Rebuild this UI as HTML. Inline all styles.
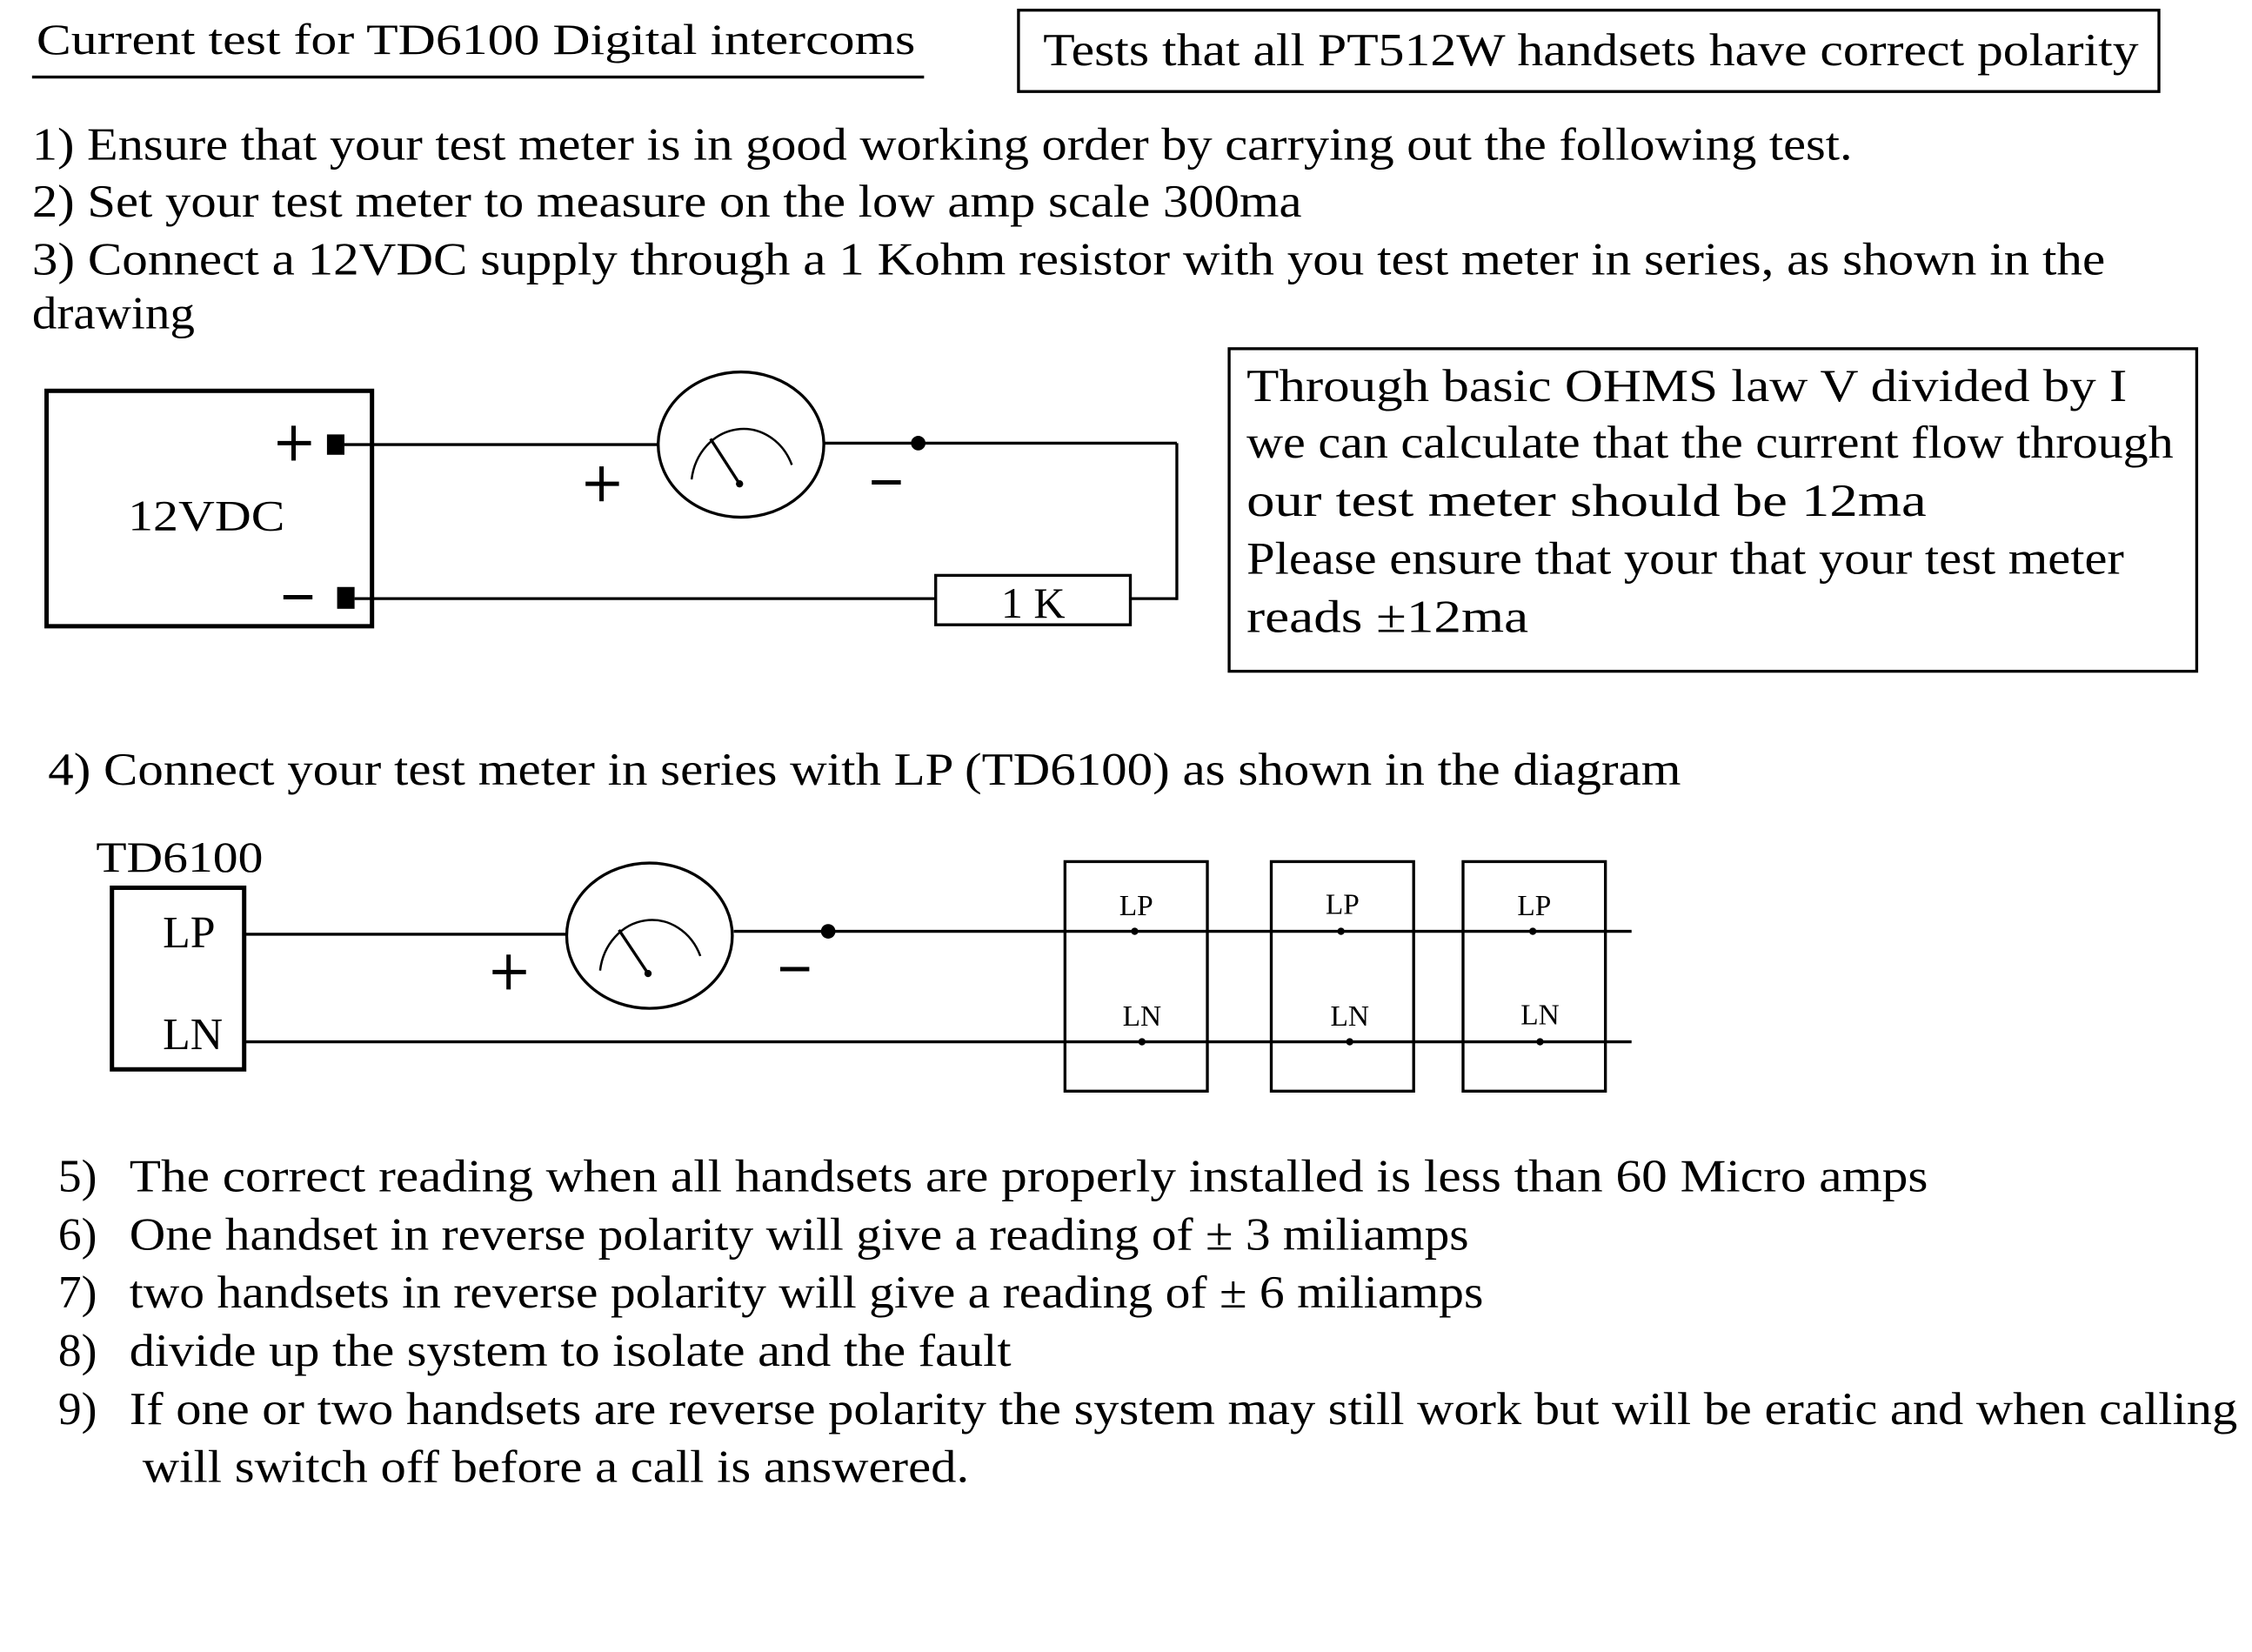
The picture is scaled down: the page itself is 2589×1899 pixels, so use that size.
<!DOCTYPE html>
<html><head><meta charset="utf-8"><style>
html,body{margin:0;padding:0;background:#fff;}
svg{display:block;}
text{font-family:"Liberation Serif",serif;fill:#000;}
</style></head><body>
<svg width="2589" height="1899" viewBox="0 0 1550 1137" xmlns="http://www.w3.org/2000/svg">
<rect width="1550" height="1137" fill="#fff"/>
<text x="25" y="37" font-size="30" textLength="605" lengthAdjust="spacingAndGlyphs">Current  test  for TD6100 Digital intercoms</text>
<line x1="22" y1="53" x2="636" y2="53" stroke="#000" stroke-width="2"/>
<rect x="701" y="7" width="785" height="56" fill="none" stroke="#000" stroke-width="2"/>
<text x="718" y="45" font-size="32" textLength="754" lengthAdjust="spacingAndGlyphs">Tests  that all PT512W handsets have correct polarity</text>

<g font-size="32">
<text x="22" y="110" textLength="1253" lengthAdjust="spacingAndGlyphs">1) Ensure that your test meter is in good working order by carrying out the following test.</text>
<text x="22" y="149" textLength="874" lengthAdjust="spacingAndGlyphs">2) Set your test meter to measure on the low amp scale 300ma</text>
<text x="22" y="189" textLength="1427" lengthAdjust="spacingAndGlyphs">3) Connect a 12VDC supply through a 1 Kohm  resistor with you test meter in series, as shown in the</text>
<text x="22" y="226" textLength="112" lengthAdjust="spacingAndGlyphs">drawing</text>
</g>

<g stroke="#000" stroke-width="3">
<line x1="191" y1="305" x2="214" y2="305"/><line x1="202" y1="293" x2="202" y2="317"/>
<line x1="403" y1="333" x2="426" y2="333"/><line x1="414" y1="321" x2="414" y2="345"/>
<line x1="339" y1="669" x2="362" y2="669"/><line x1="350" y1="657" x2="350" y2="681"/>
</g>

<!-- circuit 1 -->
<rect x="32" y="269" width="224" height="162" fill="none" stroke="#000" stroke-width="3"/>
<text x="88" y="365" font-size="30" textLength="108" lengthAdjust="spacingAndGlyphs">12VDC</text>
<rect x="225" y="299" width="12" height="14" fill="#000"/>
<line x1="195" y1="411" x2="215" y2="411" stroke="#000" stroke-width="3"/>
<rect x="232" y="404" width="12" height="15" fill="#000"/>
<line x1="237" y1="306" x2="453" y2="306" stroke="#000" stroke-width="2"/>
<ellipse cx="510" cy="306" rx="57" ry="50" fill="none" stroke="#000" stroke-width="2"/>
<path d="M476,330 A36,40 0 0 1 545,320" fill="none" stroke="#000" stroke-width="1.5"/>
<line x1="509" y1="333" x2="489" y2="302" stroke="#000" stroke-width="2"/>
<circle cx="509" cy="333" r="2.5"/>
<line x1="600" y1="332" x2="620" y2="332" stroke="#000" stroke-width="3"/>
<line x1="567" y1="305" x2="810" y2="305" stroke="#000" stroke-width="2"/>
<circle cx="632" cy="305" r="5"/>
<line x1="810" y1="305" x2="810" y2="413" stroke="#000" stroke-width="2"/>
<line x1="244" y1="412" x2="644" y2="412" stroke="#000" stroke-width="2"/>
<line x1="778" y1="412" x2="810" y2="412" stroke="#000" stroke-width="2"/>
<rect x="644" y="396" width="134" height="34" fill="#fff" stroke="#000" stroke-width="2"/>
<text x="689" y="425" font-size="30">1 K</text>

<rect x="846" y="240" width="666" height="222" fill="none" stroke="#000" stroke-width="2"/>
<g font-size="32">
<text x="858" y="276" textLength="606" lengthAdjust="spacingAndGlyphs">Through basic OHMS law    V divided by I</text>
<text x="858" y="315" textLength="638" lengthAdjust="spacingAndGlyphs">we can calculate that the current flow through</text>
<text x="858" y="355" textLength="468" lengthAdjust="spacingAndGlyphs">our test meter    should    be  12ma</text>
<text x="858" y="395" textLength="604" lengthAdjust="spacingAndGlyphs">Please ensure that your that your test meter</text>
<text x="858" y="435" textLength="194" lengthAdjust="spacingAndGlyphs">reads  ±12ma</text>
<text x="33" y="540" textLength="1124" lengthAdjust="spacingAndGlyphs">4) Connect  your test meter in series with LP (TD6100) as shown in the diagram</text>
</g>

<!-- circuit 2 -->
<text x="66" y="600" font-size="30" textLength="115" lengthAdjust="spacingAndGlyphs">TD6100</text>
<rect x="77" y="611" width="91" height="125" fill="none" stroke="#000" stroke-width="3"/>
<text x="112" y="652" font-size="31">LP</text>
<text x="112" y="722" font-size="31">LN</text>
<line x1="168" y1="643" x2="390" y2="643" stroke="#000" stroke-width="2"/>
<ellipse cx="447" cy="644" rx="57" ry="50" fill="none" stroke="#000" stroke-width="2"/>
<path d="M413,668 A36,40 0 0 1 482,658" fill="none" stroke="#000" stroke-width="1.5"/>
<line x1="446" y1="670" x2="426" y2="640" stroke="#000" stroke-width="2"/>
<circle cx="446" cy="670" r="2.5"/>
<line x1="537" y1="667" x2="557" y2="667" stroke="#000" stroke-width="3"/>
<line x1="505" y1="641" x2="1123" y2="641" stroke="#000" stroke-width="2"/>
<circle cx="570" cy="641" r="5"/>
<line x1="168" y1="717" x2="1123" y2="717" stroke="#000" stroke-width="2"/>
<g fill="none" stroke="#000" stroke-width="2">
<rect x="733" y="593" width="98" height="158"/>
<rect x="875" y="593" width="98" height="158"/>
<rect x="1007" y="593" width="98" height="158"/>
</g>
<g font-size="20" text-anchor="middle">
<text x="782" y="630">LP</text><text x="924" y="629">LP</text><text x="1056" y="630">LP</text>
<text x="786" y="706">LN</text><text x="929" y="706">LN</text><text x="1060" y="705">LN</text>
</g>
<circle cx="781" cy="641" r="2.5"/><circle cx="923" cy="641" r="2.5"/><circle cx="1055" cy="641" r="2.5"/>
<circle cx="786" cy="717" r="2.5"/><circle cx="929" cy="717" r="2.5"/><circle cx="1060" cy="717" r="2.5"/>

<g font-size="32">
<text x="40" y="820">5)</text>
<text x="89" y="820" textLength="1238" lengthAdjust="spacingAndGlyphs">The correct reading when all handsets are properly   installed is less than 60 Micro amps</text>
<text x="40" y="860">6)</text>
<text x="89" y="860" textLength="922" lengthAdjust="spacingAndGlyphs">One handset in reverse polarity will give a reading of ± 3 miliamps</text>
<text x="40" y="900">7)</text>
<text x="89" y="900" textLength="932" lengthAdjust="spacingAndGlyphs">two handsets in reverse polarity will give a reading of ± 6 miliamps</text>
<text x="40" y="940">8)</text>
<text x="89" y="940" textLength="607" lengthAdjust="spacingAndGlyphs">divide up the system to isolate and the fault</text>
<text x="40" y="980">9)</text>
<text x="89" y="980" textLength="1451" lengthAdjust="spacingAndGlyphs">If one or two handsets are reverse polarity  the system may still work but will be eratic and when calling</text>
<text x="98" y="1020" textLength="569" lengthAdjust="spacingAndGlyphs">will switch off  before a call is answered.</text>
</g>
</svg>
</body></html>
